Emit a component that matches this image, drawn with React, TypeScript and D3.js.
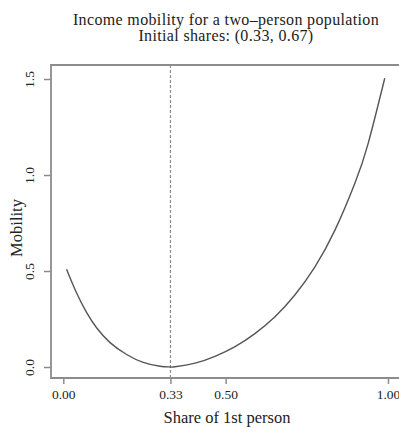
import React, { useEffect, useRef } from 'react';
import * as d3 from 'd3';

// share of the 1st person (x) and mobility (y)
const shareFirst = [0.01, 0.041, 0.072, 0.103, 0.144, 0.195, 0.246, 0.298, 0.33, 0.344, 0.406, 0.467, 0.529, 0.59, 0.652, 0.713, 0.775, 0.837, 0.898, 0.939, 0.99];
const mobility = [0.509, 0.385, 0.283, 0.203, 0.127, 0.065, 0.024, 0.004, 0.0, 0.001, 0.02, 0.055, 0.106, 0.174, 0.262, 0.375, 0.522, 0.714, 0.957, 1.165, 1.504];

const xTicks = [0, 0.33, 0.5, 1];
const yTicks = [0, 0.5, 1.0, 1.5];
const initialShare = 0.33;

const titleLines = ['Income mobility for a two\u2013person population', 'Initial shares: (0.33, 0.67)'];

const W = 399;
const H = 433;
const FONT = '"Liberation Serif", "Times New Roman", serif';

const App = () => {
  const svgRef = useRef<SVGSVGElement>(null);

  useEffect(() => {
    const svg = d3.select(svgRef.current);
    svg.selectAll('*').remove();

    const left = 51;
    const top = 65;
    const bottom = 378;

    const x = d3.scaleLinear().domain([0, 1]).range([63.3, 388]);
    const y = d3.scaleLinear().domain([0, 1.5]).range([367, 79]);
    const axisColor = '#8c8c8c';

    // title
    svg
      .selectAll('.title')
      .data(titleLines)
      .join('text')
      .attr('class', 'title')
      .attr('x', 226)
      .attr('y', (d, i) => 24.5 + i * 16.5)
      .attr('text-anchor', 'middle')
      .style('font-family', FONT)
      .style('font-size', '16px')
      .style('letter-spacing', '0.35px')
      .attr('fill', '#222')
      .text((d) => d);

    // frame: left, top and bottom lines
    const frame = svg.append('g').attr('stroke', axisColor).attr('stroke-width', 1.8).attr('fill', 'none');
    frame.append('path').attr('d', `M${W},${top}H${left}V${bottom}H${W}`);

    // y axis ticks
    const yAxis = d3.axisLeft(y).tickValues(yTicks).tickSize(7).tickSizeOuter(0).tickFormat(d3.format('.1f'));
    const gy = svg.append('g').attr('transform', `translate(${left},0)`).call(yAxis);
    gy.select('.domain').remove();
    gy.selectAll('line').attr('stroke', axisColor).attr('stroke-width', 1.5);
    gy.selectAll('text')
      .attr('x', null)
      .attr('dy', null)
      .attr('transform', 'translate(-17.5,0) rotate(-90)')
      .attr('text-anchor', 'middle')
      .style('font-family', FONT)
      .style('font-size', '13.5px')
      .attr('fill', '#222');

    // x axis ticks
    const xAxis = d3.axisBottom(x).tickValues(xTicks).tickSize(6).tickSizeOuter(0).tickFormat(d3.format('.2f'));
    const gx = svg.append('g').attr('transform', `translate(0,${bottom})`).call(xAxis);
    gx.select('.domain').remove();
    gx.selectAll('line').attr('stroke', axisColor).attr('stroke-width', 1.5);
    gx.selectAll('text')
      .attr('y', 21)
      .attr('dy', null)
      .style('font-family', FONT)
      .style('font-size', '13.5px')
      .attr('fill', '#222');

    // axis labels
    svg
      .append('text')
      .attr('x', 227)
      .attr('y', 423)
      .attr('text-anchor', 'middle')
      .style('font-family', FONT)
      .style('font-size', '16.5px')
      .attr('fill', '#222')
      .text('Share of 1st person');

    svg
      .append('text')
      .attr('transform', 'translate(22,228) rotate(-90)')
      .attr('text-anchor', 'middle')
      .style('font-family', FONT)
      .style('font-size', '16.5px')
      .attr('fill', '#222')
      .text('Mobility');

    // dashed line at the initial share
    svg
      .append('line')
      .attr('x1', x(initialShare))
      .attr('x2', x(initialShare))
      .attr('y1', top)
      .attr('y2', bottom)
      .attr('stroke', '#8c8c8c')
      .attr('stroke-width', 1.2)
      .attr('stroke-dasharray', '3,2');

    // mobility curve
    const pts = shareFirst.map((s, i) => [s, mobility[i]] as [number, number]);
    const line = d3
      .line<[number, number]>()
      .x((d) => x(d[0]))
      .y((d) => y(d[1]))
      .curve(d3.curveNatural);

    svg
      .append('path')
      .datum(pts)
      .attr('d', line)
      .attr('fill', 'none')
      .attr('stroke', '#555')
      .attr('stroke-width', 1.4);
  }, []);

  return (
    <svg
      ref={svgRef}
      width={W}
      height={H}
      style={{ position: 'absolute', left: 0, top: 0, background: '#fff' }}
    />
  );
};

export default App;
